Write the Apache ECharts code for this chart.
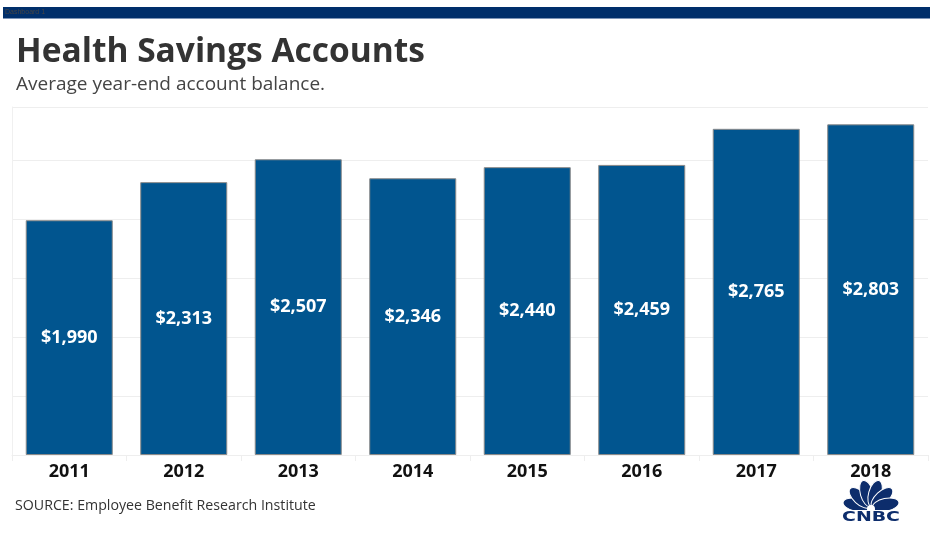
<!DOCTYPE html>
<html><head><meta charset="utf-8">
<script src="https://cdn.jsdelivr.net/npm/echarts@6/dist/echarts.min.js"></script>
<style>html,body{margin:0;padding:0;background:#fff}#c{width:937px;height:540px}</style>
</head><body><div id="c"></div>
<script>
const years = ['2011','2012','2013','2014','2015','2016','2017','2018'];
const balances = [1990, 2313, 2507, 2346, 2440, 2459, 2765, 2803];
const titleText = 'Health Savings Accounts';
const subtitleText = 'Average year-end account balance.';
const sourceText = 'SOURCE: Employee Benefit Research Institute';

const chart = echarts.init(document.getElementById('c'));
const feathers = [];
const fAngles = [-78, -47, -16, 16, 47, 78];
fAngles.forEach(a => {
  const r = a * Math.PI / 180;
  const d = 15;
  feathers.push({
    type: 'ellipse',
    shape: { cx: 0, cy: 0, rx: 6.5, ry: 13.5 },
    x: 871 + d * Math.sin(r), y: 508 - d * Math.cos(r),
    rotation: -r,
    style: { fill: '#0d2d6c', stroke: '#fff', lineWidth: 1 },
    z: 10
  });
});
chart.setOption({
  animation: false,
  textStyle: { fontFamily: 'Lato, "Open Sans", sans-serif' },
  grid: { left: 12, right: 9, top: 107, bottom: 85, containLabel: false },
  xAxis: {
    type: 'category', data: years,
    axisLine: { show: true, lineStyle: { color: '#eeeeee' } },
    axisTick: { show: true, length: 6, lineStyle: { color: '#eeeeee' } },
    axisLabel: { color: '#111', fontSize: 18, fontWeight: 'bold', margin: 8, fontFamily: '"Open Sans", sans-serif' }
  },
  yAxis: {
    type: 'value', min: 0, max: 2950, interval: 500,
    axisLine: { show: true, lineStyle: { color: '#f0f0f0' } },
    axisLabel: { show: false }, axisTick: { show: false },
    splitLine: { lineStyle: { color: '#eeeeee' } }
  },
  series: [{
    type: 'bar', data: balances, barCategoryGap: '24%',
    itemStyle: { color: '#01558f', borderColor: '#8a8a8a', borderWidth: 1 },
    label: {
      show: true, position: 'inside', color: '#fff', fontSize: 18, fontWeight: 'bold',
      fontFamily: '"Open Sans", sans-serif',
      formatter: p => '$' + p.value.toLocaleString('en-US')
    }
  }],
  graphic: [
    { type: 'rect', shape: { x: 3, y: 7, width: 927, height: 11 }, style: { fill: '#002f6b' } },
    { type: 'rect', shape: { x: 3, y: 18, width: 927, height: 1 }, style: { fill: '#7d95b8' } },
    { type: 'text', x: 5, y: 9, style: { text: 'Dashboard 1', fill: '#444', fontSize: 7, fontFamily: 'Liberation Sans Narrow, sans-serif' } },
    { type: 'text', x: 16, y: 35, style: { text: titleText, fill: '#333', fontSize: 33.5, fontWeight: 'bold', fontFamily: '"Open Sans", sans-serif' } },
    { type: 'text', x: 16, y: 75, style: { text: subtitleText, fill: '#444', fontSize: 19, fontFamily: '"Open Sans", sans-serif' } },
    { type: 'text', x: 15, y: 499, style: { text: sourceText, fill: '#333', fontSize: 14.2, fontFamily: '"Open Sans", sans-serif' } },
    ...feathers,
    { type: 'circle', shape: { cx: 871, cy: 509, r: 4 }, style: { fill: '#fff' }, z: 11 },
    { type: 'rect', shape: { x: 838, y: 510, width: 66, height: 14 }, style: { fill: '#fff' }, z: 11 },
    { type: 'text', x: 871, y: 510, scaleX: 1.35, style: { text: 'CNBC', fill: '#0d2d6c', fontSize: 14, fontWeight: 900, align: 'center', fontFamily: 'DejaVu Sans, sans-serif' }, z: 12 }
  ]
});
</script></body></html>
